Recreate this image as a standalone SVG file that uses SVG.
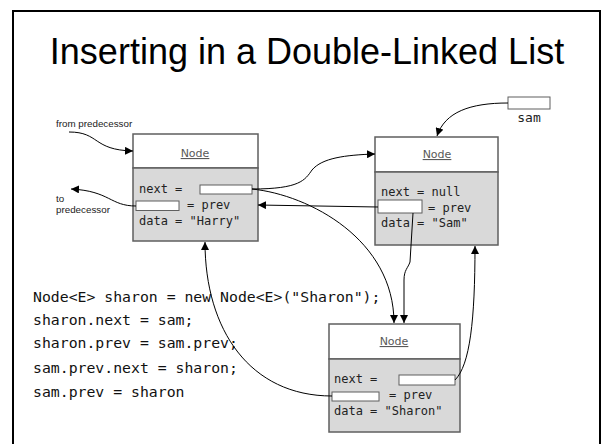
<svg xmlns="http://www.w3.org/2000/svg" width="602" height="444" viewBox="0 0 602 444">
  <style>
    .frame { fill: none; stroke: #000; stroke-width: 2; }
    .title { font-family: "Liberation Sans", Arial, sans-serif; font-size: 36px; fill: #000; }
    .box-top { fill: #fff; stroke: #5f5f5f; stroke-width: 1.5; }
    .box-bot { fill: #d9d9d9; stroke: #5f5f5f; stroke-width: 1.5; }
    .field { fill: #fff; stroke: #5f5f5f; stroke-width: 1; }
    .cls { font-family: "DejaVu Sans", Verdana, sans-serif; font-size: 11px; fill: #595959; text-decoration: underline; }
    .mono { font-family: "DejaVu Sans Mono", monospace; font-size: 12px; fill: #222; }
    .code { font-family: "DejaVu Sans Mono", monospace; font-size: 14.8px; fill: #111; }
    .note { font-family: "Liberation Sans", Arial, sans-serif; font-size: 9.8px; fill: #222; }
    .link { fill: none; stroke: #000; stroke-width: 1; }
  </style>
  <defs>
    <marker id="head" viewBox="0 0 10 10" refX="10" refY="5" markerWidth="8" markerHeight="8" markerUnits="userSpaceOnUse" orient="auto">
      <path d="M0,0 L10,5 L0,10 z" fill="#000"/>
    </marker>
  </defs>

  <rect width="602" height="444" fill="#fff"/>
  <path class="frame" d="M13,450 L13,11 L600,11 L600,450"/>
  <text class="title" x="307" y="64" text-anchor="middle">Inserting in a Double-Linked List</text>

  <!-- reference variable -->
  <g id="sam-ref">
    <rect class="field" x="508" y="97" width="42" height="12"/>
    <text class="mono" x="529" y="122" text-anchor="middle" style="font-size:13px">sam</text>
  </g>

  <g id="node-harry">
    <rect class="box-top" x="133" y="134" width="125" height="34"/>
    <rect class="box-bot" x="133" y="168" width="125" height="73"/>
    <text class="cls" x="195" y="157" text-anchor="middle">Node</text>
    <text class="mono" x="139" y="193">next =</text>
    <rect class="field" x="200" y="185" width="52" height="9"/>
    <rect class="field" x="136" y="201" width="43" height="9.5"/>
    <text class="mono" x="187" y="209">= prev</text>
    <text class="mono" x="139" y="225">data = "Harry"</text>
  </g>

  <g id="node-sam">
    <rect class="box-top" x="375" y="137" width="123" height="35"/>
    <rect class="box-bot" x="375" y="172" width="123" height="73"/>
    <text class="cls" x="437" y="158" text-anchor="middle">Node</text>
    <text class="mono" x="381" y="196">next = null</text>
    <rect class="field" x="378" y="200" width="44" height="13"/>
    <text class="mono" x="428" y="212">= prev</text>
    <text class="mono" x="381" y="227">data = "Sam"</text>
  </g>

  <g id="node-sharon">
    <rect class="box-top" x="329" y="324" width="131" height="35"/>
    <rect class="box-bot" x="329" y="359" width="131" height="73"/>
    <text class="cls" x="394" y="345" text-anchor="middle">Node</text>
    <text class="mono" x="334" y="383">next =</text>
    <rect class="field" x="399" y="375" width="56" height="10"/>
    <rect class="field" x="332" y="392" width="47" height="9"/>
    <text class="mono" x="389" y="399">= prev</text>
    <text class="mono" x="334" y="415">data = "Sharon"</text>
  </g>

  <g id="labels">
    <text class="note" x="56" y="127">from predecessor</text>
    <text class="note" x="56" y="202">to</text>
    <text class="note" x="56" y="213">predecessor</text>
  </g>

  <g id="code">
    <text class="code" x="33" y="302">Node&lt;E&gt; sharon = new Node&lt;E&gt;("Sharon");</text>
    <text class="code" x="33" y="325">sharon.next = sam;</text>
    <text class="code" x="33" y="348">sharon.prev = sam.prev;</text>
    <text class="code" x="33" y="373">sam.prev.next = sharon;</text>
    <text class="code" x="33" y="397">sam.prev = sharon</text>
  </g>

  <g id="connectors">
    <path class="link" d="M69,132 C100,132 92,150 133,151" marker-end="url(#head)"/>
    <path class="link" d="M136,206 C110,206 110,191 71,189" marker-end="url(#head)"/>
    <path class="link" d="M508,103 C470,103 445,112 437,136" marker-end="url(#head)"/>
    <path class="link" d="M252,189 C300,189 305,180 312,170 C322,158 345,155 375,154" marker-end="url(#head)"/>
    <path class="link" d="M378,207 L258,205" marker-end="url(#head)"/>
    <path class="link" d="M252,189 C310,195 394,240 394,323" marker-end="url(#head)"/>
    <path class="link" d="M413,213 L410,262 C408,268 404,270 404,280 L404,323" marker-end="url(#head)"/>
    <path class="link" d="M455,380 C470,365 475,320 475,246" marker-end="url(#head)"/>
    <path class="link" d="M332,396 C250,396 205,330 205,242" marker-end="url(#head)"/>
  </g>
</svg>
